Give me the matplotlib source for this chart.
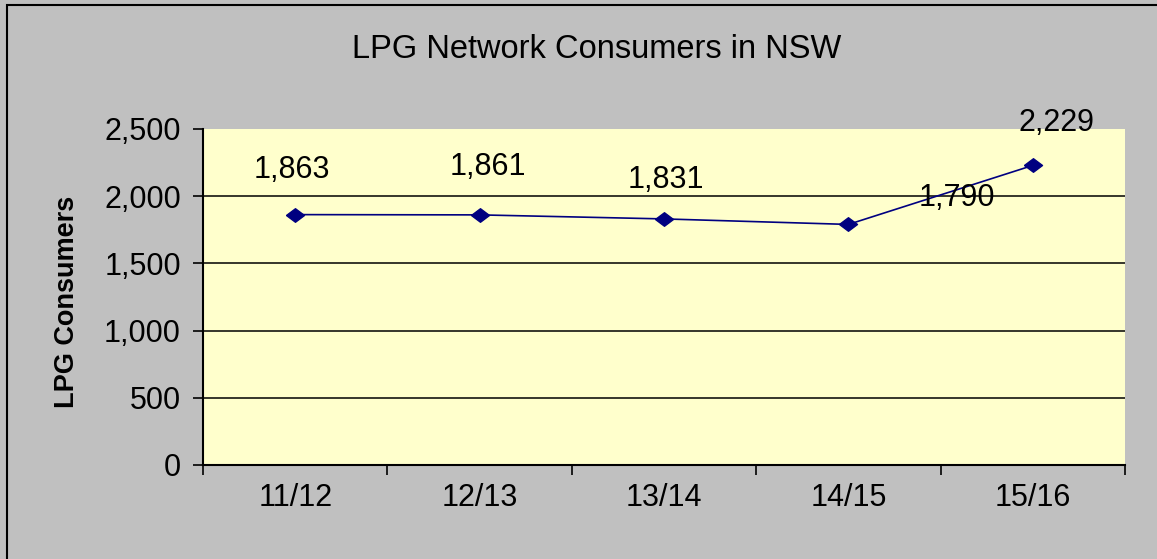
import matplotlib
matplotlib.use("Agg")
import matplotlib.pyplot as plt
from matplotlib.patches import Rectangle

plt.rcParams['font.family'] = ['Liberation Sans', 'DejaVu Sans']

categories = ["11/12", "12/13", "13/14", "14/15", "15/16"]
consumers = [1863, 1861, 1831, 1790, 2229]
value_labels = ["1,863", "1,861", "1,831", "1,790", "2,229"]
y_ticks = [0, 500, 1000, 1500, 2000, 2500]
y_tick_labels = ["0", "500", "1,000", "1,500", "2,000", "2,500"]
# label offsets in pixels (dx, dy), as placed in the original
label_offsets = [(-3, 45), (8, 48), (2, 39), (108, 26), (24, 42)]

W, H = 1157, 559
fig = plt.figure(figsize=(W / 100, H / 100), dpi=100)
fig.patch.set_facecolor('#C0C0C0')

# outer chart border (only top/left visible in the crop)
fig.patches.append(Rectangle((7 / W, -0.1), 1.2, 1 - 5 / H + 0.1,
                             transform=fig.transFigure, fill=False,
                             edgecolor='black', linewidth=1.5))

left, right, top, bottom = 203, 1125, 129, 465
ax = fig.add_axes([left / W, 1 - bottom / H, (right - left) / W, (bottom - top) / H])
ax.set_facecolor('#FFFFCC')

xs = [i + 0.5 for i in range(len(categories))]
diamond = [(-1, 0), (0, 0.75), (1, 0), (0, -0.75), (-1, 0)]
ax.plot(xs, consumers, color='#000080', linewidth=1.2, marker=diamond,
        markersize=13, markerfacecolor='#000080', markeredgecolor='#000080',
        zorder=3)

for x, v, lab, (dx, dy) in zip(xs, consumers, value_labels, label_offsets):
    ax.annotate(lab, (x, v), xytext=(dx * 0.72, dy * 0.72),
                textcoords='offset points', ha='center', va='center',
                fontsize=22, color='black', zorder=4)

ax.set_xlim(0, len(categories))
ax.set_ylim(0, 2500)
ax.set_yticks(y_ticks)
ax.set_yticklabels(y_tick_labels)
ax.set_xticks(range(len(categories) + 1))
ax.set_xticklabels([])
ax.set_xticks(xs, minor=True)
ax.set_xticklabels(categories, minor=True)
ax.tick_params(axis='x', which='minor', length=0, pad=13, labelsize=22)
ax.tick_params(axis='x', which='major', length=7, width=1.2, direction='out', color='black')
ax.tick_params(axis='y', length=7, width=1.2, direction='out', pad=9, labelsize=22)

for g in y_ticks[1:-1]:
    ax.axhline(g, color='black', linewidth=1.1, zorder=1)

for s in ['top', 'right']:
    ax.spines[s].set_visible(False)
for s in ['left', 'bottom']:
    ax.spines[s].set_linewidth(1.5)
    ax.spines[s].set_color('black')

fig.text(67 / W, 1 - 302 / H, "LPG Consumers", rotation=90, ha='center',
         va='center', fontsize=19.5, fontweight='bold')
fig.text(597 / W, 1 - 50 / H, "LPG Network Consumers in NSW", ha='center',
         va='center', fontsize=23.5)

fig.savefig("out.png", dpi=100, facecolor=fig.get_facecolor())
